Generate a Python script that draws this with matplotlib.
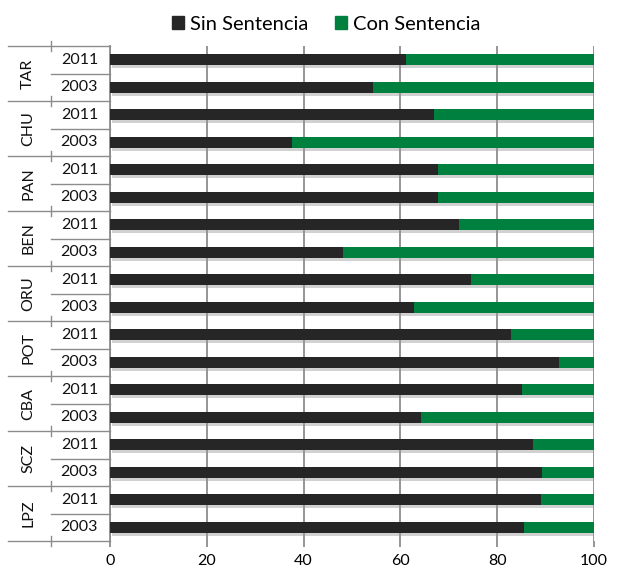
import matplotlib
matplotlib.use('Agg')
import matplotlib.pyplot as plt
import matplotlib.patheffects as pe
from matplotlib.patches import Patch
import numpy as np

plt.rcParams['font.family'] = ['Lato', 'DejaVu Sans']

# departamentos de abajo hacia arriba, cada uno con 2003 y 2011
departamentos = ['LPZ', 'SCZ', 'CBA', 'POT', 'ORU', 'BEN', 'PAN', 'CHU', 'TAR']
anios = ['2003', '2011']

# porcentaje sin sentencia (2003, 2011) por departamento
sin_2003 = [85.6, 89.3, 64.2, 92.7, 62.8, 48.1, 67.7, 37.7, 54.3]
sin_2011 = [89.0, 87.4, 85.1, 82.8, 74.6, 72.2, 67.7, 66.9, 61.1]

sin_sentencia = []
etiquetas = []
for i in range(len(departamentos)):
    sin_sentencia += [sin_2003[i], sin_2011[i]]
    etiquetas += anios
sin_sentencia = np.array(sin_sentencia)
con_sentencia = 100 - sin_sentencia

color_sin = '#262626'
color_con = '#00803E'
color_linea = '#8C8C8C'

fig = plt.figure(figsize=(6.2, 5.74), dpi=100)
ax = fig.add_axes([110 / 620, 1 - 541 / 574, 484 / 620, 495 / 574])

y = np.arange(len(sin_sentencia))
sombra = [pe.SimplePatchShadow(offset=(1.2, -2.2), shadow_rgbFace='#999999', alpha=0.45), pe.Normal()]
b1 = ax.barh(y, sin_sentencia, height=0.4, color=color_sin, zorder=3)
b2 = ax.barh(y, con_sentencia, left=sin_sentencia, height=0.4, color=color_con, zorder=3)
for b in list(b1) + list(b2):
    b.set_path_effects(sombra)

ax.set_xlim(0, 100)
ax.set_ylim(-0.5, len(y) - 0.5)
ax.set_xticks(np.arange(0, 101, 20))
ax.set_xticklabels([str(v) for v in range(0, 101, 20)], fontsize=11.5)
ax.tick_params(axis='x', length=4.5, color=color_linea, width=1.3, pad=5)
ax.set_yticks([])
ax.grid(axis='x', color=color_linea, linewidth=1.3, zorder=0)
for lado in ['top', 'right', 'bottom']:
    ax.spines[lado].set_visible(False)
ax.spines['left'].set_color(color_linea)
ax.spines['left'].set_linewidth(1.3)

# eje de categorias en dos niveles
tr = ax.get_yaxis_transform()
x_ext = -102 / 484
x_med = -59 / 484
kw = dict(color=color_linea, linewidth=1.0, clip_on=False, transform=tr)
for k in range(len(departamentos) + 1):
    yb = 2 * k - 0.5
    ax.plot([x_ext, 0], [yb, yb], **kw)
    ax.plot([x_med, x_med], [yb - 0.18, yb + 0.18], **kw)
for k in range(len(departamentos)):
    yb = 2 * k + 0.5
    ax.plot([x_med, 0], [yb, yb], **kw)
    ax.text(-82 / 484, 2 * k + 0.5, departamentos[k], transform=tr, rotation=90,
            ha='center', va='center', fontsize=11.5, color='#111111')
for i, et in enumerate(etiquetas):
    ax.text(-12 / 484, i, et, transform=tr, ha='right', va='center',
            fontsize=11.5, color='#111111')

handles = [Patch(color=color_sin), Patch(color=color_con)]
fig.legend(handles, ['Sin Sentencia', 'Con Sentencia'], loc='center',
           bbox_to_anchor=(326 / 620, 1 - 24 / 574), ncol=2, frameon=False,
           fontsize=14.5, handlelength=0.6, handleheight=0.6, handletextpad=0.3,
           columnspacing=1.3)

fig.savefig('out.png', dpi=100)
